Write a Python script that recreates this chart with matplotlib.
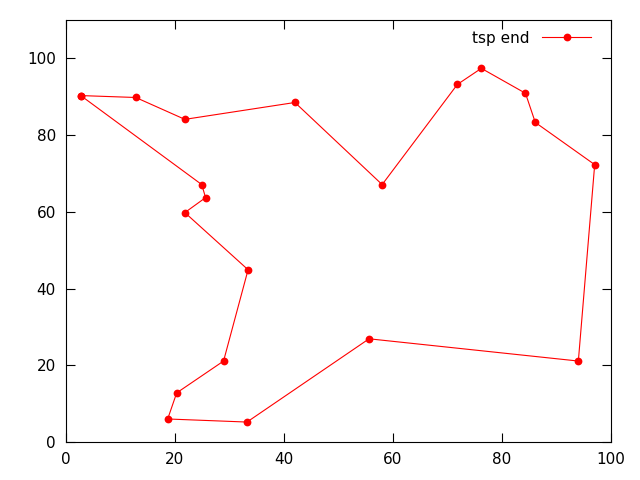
import matplotlib
matplotlib.use("Agg")
import matplotlib.pyplot as plt

x = [2.8, 12.9, 21.9, 42.1, 58.1, 71.9, 76.3, 84.4, 86.2, 97.1,
     94.1, 55.7, 33.3, 18.75, 20.4, 29.0, 33.5, 21.9, 25.7, 25.0, 2.8]
y = [90.3, 89.8, 84.1, 88.5, 67.1, 93.2, 97.4, 90.9, 83.3, 72.3,
     21.1, 26.9, 5.2, 6.0, 12.8, 21.1, 44.9, 59.8, 63.7, 67.1, 90.3]
series_label = "tsp end"
xticks = [0, 20, 40, 60, 80, 100]
yticks = [0, 20, 40, 60, 80, 100]

plt.rcParams['font.family'] = ['DejaVu Sans']
fig = plt.figure(figsize=(6.4, 4.8), dpi=100)
ax = fig.add_axes([65.5/640, 38/480, 545/640, 422/480])
ax.plot(x, y, color='#ff0000', linewidth=0.8, marker='o', markersize=5.6,
        markeredgewidth=0, label=series_label)
ax.set_xlim(0, 100)
ax.set_ylim(0, 110)
ax.set_xticks(xticks)
ax.set_yticks(yticks)
ax.tick_params(direction='in', length=6.5, width=0.8, top=True, right=True,
               labelsize=11, pad=7, colors='black')
for s in ax.spines.values():
    s.set_linewidth(0.8)
leg = ax.legend(loc='upper right', bbox_to_anchor=(0.984, 1.0), frameon=False,
                markerfirst=False, handlelength=3.2, fontsize=11, numpoints=1,
                handletextpad=0.8, borderaxespad=0.3)
fig.savefig('out.png', dpi=100)
